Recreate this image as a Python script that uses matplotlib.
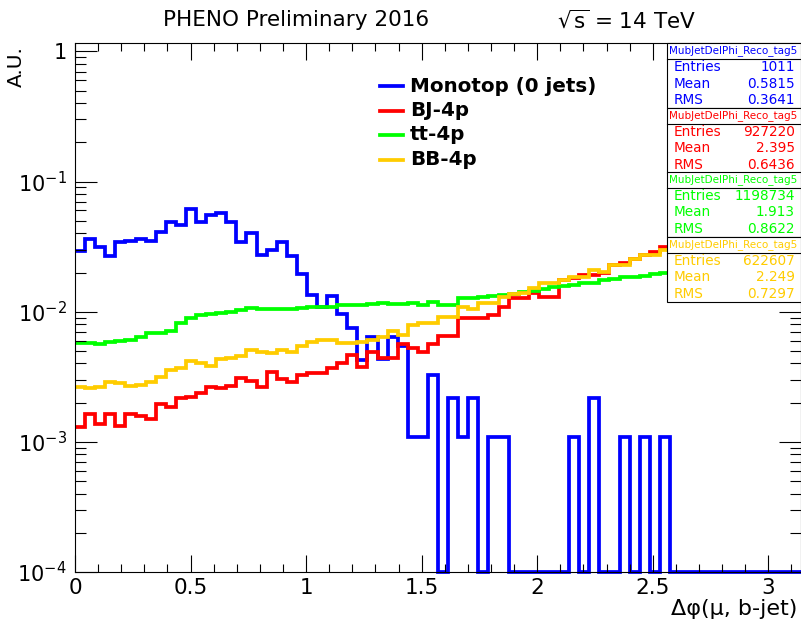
import numpy as np
import matplotlib
matplotlib.use('Agg')
import matplotlib.pyplot as plt
from matplotlib.patches import Rectangle
from matplotlib.lines import Line2D
from matplotlib.ticker import LogLocator, FuncFormatter, MultipleLocator, NullFormatter

# 72 bins of delta phi between the muon and the b-jet, 0..pi
n_bins = 72
edges = np.linspace(0, np.pi, n_bins + 1)

monotop = [0.0295, 0.0361, 0.0313, 0.0268, 0.0346, 0.0352, 0.0361, 0.0349, 0.0410, 0.0493,
           0.0465, 0.0613, 0.0493, 0.0554, 0.0571, 0.0493, 0.0346, 0.0400, 0.0273, 0.0298,
           0.0346, 0.0268, 0.0195, 0.0134, 0.0109, 0.0131, 0.0096, 0.00745, 0.00425, 0.00642,
           0.0043, 0.00642, 0.00545, 0.00109, 0.00109, 0.00326, 0, 0.00216, 0.00109, 0.00216,
           0, 0.00109, 0.00109, 0, 0, 0, 0, 0, 0, 0.00109,
           0, 0.00216, 0, 0, 0.00109, 0, 0.00109, 0, 0.00109, 0,
           0, 0, 0, 0, 0, 0, 0, 0, 0, 0, 0, 0]

bj_4p = [0.00131, 0.00165, 0.00138, 0.00165, 0.00132, 0.00165, 0.00157, 0.00151, 0.00197, 0.00184,
         0.00218, 0.00221, 0.00238, 0.00265, 0.00257, 0.00268, 0.00307, 0.00295, 0.00262, 0.00346,
         0.00302, 0.0029, 0.00326, 0.00339, 0.00339, 0.00367, 0.00406, 0.00465, 0.00378, 0.00492,
         0.00438, 0.00438, 0.00564, 0.00522, 0.00492, 0.00564, 0.00653, 0.00653, 0.00888, 0.00888,
         0.00902, 0.00945, 0.01092, 0.01268, 0.01268, 0.01383, 0.01306, 0.01306, 0.01754, 0.01808,
         0.01917, 0.01917, 0.01978, 0.0229, 0.02362, 0.02532, 0.0273, 0.0290, 0.03128, 0.0325,
         0.034, 0.0355, 0.037, 0.0385, 0.040, 0.0415, 0.043, 0.0445, 0.046, 0.0475, 0.049, 0.0505]

tt_4p = [0.0057, 0.0057, 0.00564, 0.00587, 0.00597, 0.00611, 0.00635, 0.0068, 0.00692, 0.00712,
         0.00814, 0.00888, 0.00945, 0.00956, 0.00972, 0.00989, 0.0103, 0.0106, 0.0104, 0.0104,
         0.0104, 0.01054, 0.01075, 0.01082, 0.01092, 0.01092, 0.01126, 0.01126, 0.01126, 0.0114,
         0.0116, 0.0114, 0.01147, 0.0116, 0.01126, 0.0119, 0.01126, 0.01126, 0.01268, 0.01268,
         0.01304, 0.01328, 0.01344, 0.01366, 0.01426, 0.01444, 0.01488, 0.0154, 0.0158, 0.0160,
         0.0165, 0.0165, 0.01754, 0.01775, 0.0184, 0.0184, 0.0188, 0.0195, 0.0200, 0.0203,
         0.0207, 0.0211, 0.0215, 0.0219, 0.0223, 0.0227, 0.0231, 0.0235, 0.0239, 0.0243, 0.0247, 0.0251]

bb_4p = [0.00262, 0.00258, 0.00265, 0.0029, 0.00281, 0.00268, 0.00273, 0.0029, 0.00317, 0.00356,
         0.00367, 0.00418, 0.00401, 0.00383, 0.00431, 0.00438, 0.00453, 0.00508, 0.00492, 0.00485,
         0.00508, 0.00492, 0.00545, 0.00588, 0.00605, 0.00611, 0.00577, 0.00571, 0.00588, 0.00611,
         0.00643, 0.00713, 0.00661, 0.0079, 0.00813, 0.00813, 0.00915, 0.00915, 0.0108, 0.01043,
         0.0116, 0.0116, 0.01305, 0.01367, 0.01398, 0.01512, 0.0165, 0.0165, 0.01754, 0.0186,
         0.0186, 0.02095, 0.02034, 0.02285, 0.02285, 0.02527, 0.02729, 0.02729, 0.02984, 0.031,
         0.032, 0.033, 0.034, 0.035, 0.036, 0.037, 0.038, 0.039, 0.040, 0.041, 0.042, 0.043]

labels = ['Monotop (0 jets)', 'BJ-4p', 'tt-4p', 'BB-4p']
colors = ['#0000ff', '#ff0000', '#00ff00', '#ffcc00']
entries = [1011, 927220, 1198734, 622607]
means = [0.5815, 2.395, 1.913, 2.249]
rms = [0.3641, 0.6436, 0.8622, 0.7297]
hist_name = 'MubJetDelPhi_Reco_tag5'

W, H = 801, 620
y_min, y_max = 1e-4, 1.16


def fx(px):
    return px / W


def fy(py):
    return 1 - py / H


plt.rcParams['font.family'] = ['DejaVu Sans']
plt.rcParams['mathtext.fontset'] = 'dejavusans'

fig = plt.figure(figsize=(W / 100, H / 100), dpi=100)
ax = fig.add_axes([fx(75), fy(572), fx(801) - fx(75), fy(43) - fy(572)])

for vals, c in zip([monotop, bj_4p, tt_4p, bb_4p], colors):
    v = np.asarray(vals, dtype=float)
    v = np.where(v > 0, v, y_min)  # empty bins sit on the frame
    ax.stairs(v, edges, baseline=None, color=c, lw=2.7, clip_on=False)

ax.set_yscale('log')
ax.set_xlim(0, np.pi)
ax.set_ylim(y_min, y_max)

ax.xaxis.set_major_locator(MultipleLocator(0.5))
ax.xaxis.set_minor_locator(MultipleLocator(0.1))
ax.xaxis.set_major_formatter(FuncFormatter(lambda v, p: '%g' % v))
ax.yaxis.set_major_locator(LogLocator(base=10, numticks=10))
ax.yaxis.set_minor_locator(LogLocator(base=10, subs=np.arange(2, 10), numticks=10))
ax.yaxis.set_minor_formatter(NullFormatter())
ax.yaxis.set_major_formatter(FuncFormatter(
    lambda v, p: '1' if abs(v - 1) < 1e-9 else r'$10^{%d}$' % round(np.log10(v))))

ax.tick_params(axis='x', which='major', direction='in', length=12, width=0.8,
               top=True, labelsize=15.5, pad=4)
ax.tick_params(axis='x', which='minor', direction='in', length=6, width=0.8, top=True)
ax.tick_params(axis='y', which='major', direction='in', length=16, width=0.8,
               right=True, labelsize=15, pad=6)
ax.tick_params(axis='y', which='minor', direction='in', length=8, width=0.8, right=True)
for s in ax.spines.values():
    s.set_linewidth(0.8)

fig.text(fx(797), fy(609), 'Δφ(μ, b-jet)', ha='right', va='center', fontsize=16)
fig.text(fx(16), fy(46), 'A.U.', ha='center', va='top', rotation=90, fontsize=14.5)
fig.text(fx(296), fy(20), 'PHENO Preliminary 2016', ha='center', va='center', fontsize=15.5)
fig.text(fx(627), fy(20), r'$\sqrt{\mathregular{s}}$ = 14 TeV', ha='center', va='center',
         fontsize=15.5)

# legend, drawn by hand
for i, (lab, c) in enumerate(zip(labels, colors)):
    yy = 86 + i * 24.5
    fig.add_artist(Line2D([fx(380), fx(403)], [fy(yy), fy(yy)], color=c, lw=2.7))
    fig.text(fx(410), fy(yy), lab, ha='left', va='center', fontsize=14.3, fontweight='bold')

# stat boxes, one per sample, stacked down the right edge
box_top = [43, 108, 172, 237]
for i, c in enumerate(colors):
    top = box_top[i]
    fig.add_artist(Rectangle((fx(667), fy(top + 65)), fx(801) - fx(667), 65 / H,
                             transform=fig.transFigure, facecolor='white',
                             edgecolor='black', lw=0.8, zorder=5))
    fig.add_artist(Line2D([fx(667), fx(801)], [fy(top + 15.5), fy(top + 15.5)],
                          color='black', lw=0.8, zorder=6))
    fig.text(fx(733), fy(top + 7.5), hist_name, ha='center', va='center',
             fontsize=7.5, color=c, zorder=7)
    rows = [('Entries', '%d' % entries[i]), ('Mean', '%.4g' % means[i]),
            ('RMS', '%.4g' % rms[i])]
    for j, (k, val) in enumerate(rows):
        yy = top + 24 + j * 16.5
        fig.text(fx(674), fy(yy), k, ha='left', va='center', fontsize=9.8, color=c, zorder=7)
        fig.text(fx(795), fy(yy), val, ha='right', va='center', fontsize=9.8, color=c, zorder=7)

fig.savefig('out.png', dpi=100)
